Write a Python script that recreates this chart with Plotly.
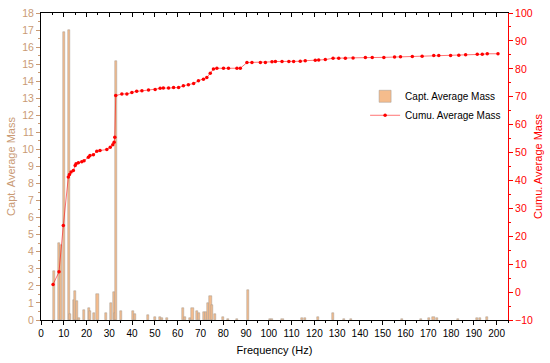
import plotly.graph_objects as go

# captured average mass per frequency (bars, left axis)
bar_freq = [5.5, 8.0, 8.8, 10.0, 12.2, 12.8, 14.3, 15.0, 15.7, 16.8, 18.9, 20.9, 21.6,
            23.3, 24.8, 28.7, 30.9, 32.1, 32.5, 32.9, 35.3, 40.4, 41.1, 47.1, 50.0,
            52.3, 53.0, 55.3, 62.5, 63.2, 65.5, 66.5, 68.6, 69.4, 71.7, 72.5, 73.5,
            74.4, 75.2, 76.2, 79.9, 82.0, 85.9, 90.7, 100.5, 101.5, 106.0, 114.5,
            115.8, 121.8, 128.1, 133.0, 136.0, 158.5, 167.0, 170.5, 172.3, 174.0,
            183.0, 191.5, 192.5, 195.6]
bar_mass = [2.9, 4.5, 4.4, 16.9, 17.0, 0.35, 1.2, 1.7, 1.1, 0.1, 0.6, 0.68, 0.5,
            0.4, 1.5, 0.4, 1.0, 1.65, 0.4, 15.2, 0.5, 0.5, 0.35, 0.3, 0.2,
            0.18, 0.12, 0.1, 0.68, 0.17, 0.1, 0.68, 0.5, 0.4, 0.45, 0.45, 0.98,
            1.41, 0.88, 0.37, 0.2, 0.08, 0.08, 1.78, 0.08, 0.08, 0.07, 0.1,
            0.1, 0.2, 0.43, 0.08, 0.07, 0.08, 0.08, 0.1, 0.18, 0.1,
            0.06, 0.1, 0.1, 0.2]

# cumulative average mass (line, right axis)
cum_freq = [5.3, 7.9, 9.8, 12.0, 12.5, 13.2, 14.2, 15.0, 15.4, 16.4, 17.9, 18.9, 20.8,
            21.5, 23.0, 24.5, 25.9, 28.9, 30.4, 31.5, 32.1, 32.4, 32.8, 35.5, 37.7,
            39.9, 42.0, 44.3, 47.2, 50.1, 52.3, 53.7, 56.0, 58.2, 60.4, 62.5, 64.7,
            67.0, 69.1, 71.3, 72.8, 74.3, 75.7, 77.2, 80.1, 82.3, 86.0, 87.5, 90.4,
            92.6, 96.3, 98.5, 101.4, 102.9, 105.8, 108.8, 110.9, 113.8, 116.0, 120.4,
            121.9, 124.8, 128.2, 130.7, 133.6, 137.0, 142.4, 145.4, 150.5, 155.2,
            157.8, 163.0, 167.3, 172.4, 174.6, 179.8, 183.4, 186.4, 191.5, 193.7,
            195.9, 200.6]
cum_mass = [2.75, 7.25, 23.9, 41.2, 42.1, 43.0, 43.6, 45.4, 46.0, 46.3, 46.7, 47.1, 48.3,
            48.9, 49.2, 50.5, 50.7, 51.1, 51.9, 52.75, 53.7, 55.5, 70.4, 71.0, 71.0,
            71.5, 72.0, 72.1, 72.4, 72.6, 73.0, 73.1, 73.1, 73.3, 73.3, 73.9, 74.3,
            74.75, 75.7, 76.3, 76.9, 78.4, 79.9, 80.2, 80.2, 80.2, 80.2, 80.2, 82.25,
            82.25, 82.3, 82.3, 82.5, 82.6, 82.6, 82.6, 82.6, 82.7, 82.9, 83.1,
            83.2, 83.3, 83.8, 83.8, 83.8, 83.85, 84.05, 84.05, 84.1, 84.2,
            84.3, 84.4, 84.5, 84.75, 84.75, 84.8, 84.9, 85.05, 85.2, 85.2,
            85.4, 85.4]

tan = '#C99A74'
red = '#FF0000'
font = 'Liberation Sans, Arial, sans-serif'

fig = go.Figure()
fig.add_trace(go.Bar(x=bar_freq, y=bar_mass, width=0.9, name='Capt. Average Mass',
                     marker=dict(color='#F5BC8C', line=dict(color='#A09890', width=0.5))))
fig.add_trace(go.Scatter(x=cum_freq, y=cum_mass, yaxis='y2', mode='lines+markers',
                         name='Cumu. Average Mass',
                         line=dict(color='rgba(255,0,0,0.55)', width=1),
                         marker=dict(color=red, size=3.5)))
# invisible trace to carry the top axis
fig.add_trace(go.Scatter(x=[0, 205], y=[0, 0], xaxis='x2', mode='none',
                         showlegend=False, hoverinfo='skip'))

fig.update_layout(
    width=550, height=363,
    margin=dict(l=41, r=42, t=13, b=43),
    paper_bgcolor='white', plot_bgcolor='white',
    font=dict(family=font, size=10, color='black'),
    bargap=0,
    xaxis=dict(range=[0, 205], dtick=10, tick0=0, ticks='outside', ticklen=4,
               tickcolor='black', showline=True, linecolor='black', linewidth=1,
               showgrid=False, zeroline=False, automargin=False,
               minor=dict(dtick=5, ticks='outside', ticklen=2, tickcolor='black'),
               title=dict(text='Frequency (Hz)', font=dict(size=11), standoff=8),
               tickfont=dict(size=10)),
    xaxis2=dict(range=[0, 205], overlaying='x', side='top', dtick=10, tick0=0,
                ticks='inside', ticklen=4, tickcolor='black', showline=True,
                linecolor='black', linewidth=1, showticklabels=False, showgrid=False,
                zeroline=False, automargin=False,
                minor=dict(dtick=5, ticks='inside', ticklen=2, tickcolor='black')),
    yaxis=dict(range=[0, 18], dtick=1, ticks='outside', ticklen=4, tickcolor=tan,
               showline=True, linecolor='black', linewidth=1, showgrid=False,
               zeroline=False, automargin=False, tickfont=dict(color=tan, size=10.5),
               minor=dict(dtick=0.5, ticks='outside', ticklen=2, tickcolor=tan),
               title=dict(text='Capt. Average Mass', font=dict(color=tan, size=11),
                          standoff=4)),
    yaxis2=dict(range=[-10, 100], dtick=10, overlaying='y', side='right',
                ticks='outside', ticklen=4, tickcolor=red, showline=True,
                linecolor=red, linewidth=1, showgrid=False, zeroline=False,
                automargin=False, tickfont=dict(color=red, size=10.5),
                minor=dict(dtick=5, ticks='outside', ticklen=2, tickcolor=red),
                title=dict(text='Cumu. Average Mass', font=dict(color=red, size=11),
                           standoff=2)),
    legend=dict(x=0.694, y=0.776, xanchor='left', yanchor='top',
                bgcolor='rgba(0,0,0,0)', font=dict(size=10),
                tracegroupgap=0, itemwidth=30),
)

# drop the page's default body margin so the figure sits at the window corner
fig.write_html("out.html", config={'displayModeBar': False},
               post_script="document.body.style.margin='0';")
